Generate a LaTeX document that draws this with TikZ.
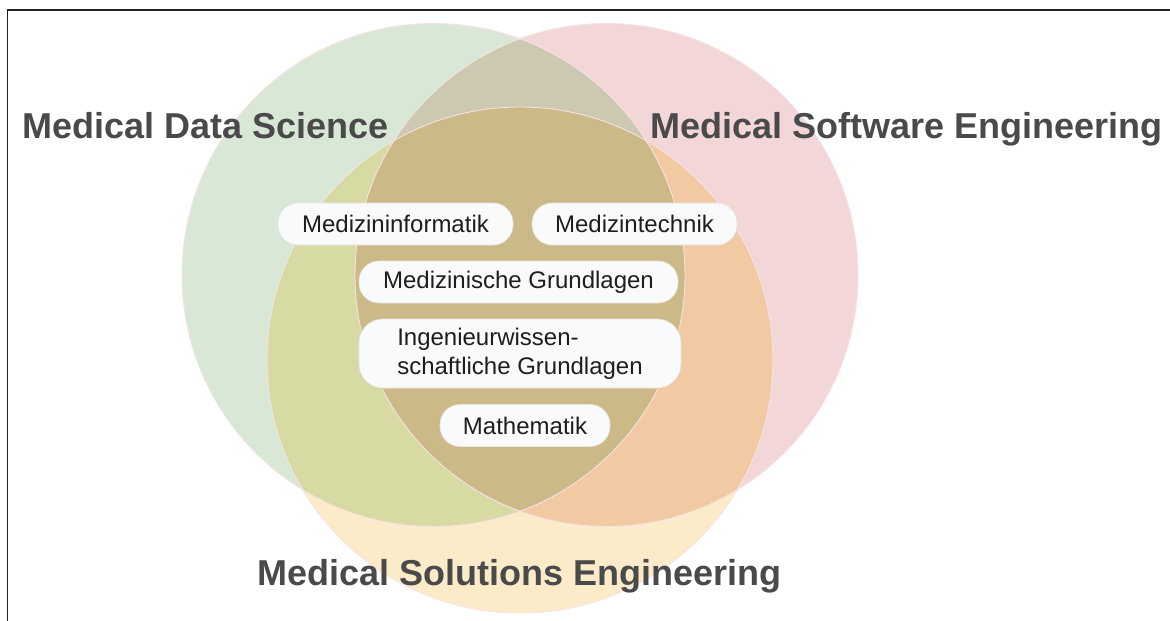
\documentclass[tikz,border=0pt]{standalone}
\usepackage{fontspec}
\setmainfont{Liberation Sans}
\definecolor{cgreen}{HTML}{D9E8D6}
\definecolor{cred}{HTML}{F3D6D7}
\definecolor{cyellow}{HTML}{FCEBC9}
\definecolor{cgr}{HTML}{CCC8B1}
\definecolor{cgy}{HTML}{D7DBA3}
\definecolor{cry}{HTML}{F1C9A2}
\definecolor{call}{HTML}{CBB987}
\definecolor{rimcol}{HTML}{F6E3E1}
\definecolor{labelgray}{HTML}{4A4A4A}
\definecolor{boxfill}{HTML}{F9FAFB}
\definecolor{boxedge}{HTML}{E6E4DE}
\definecolor{itemtext}{HTML}{1E1E1E}
\definecolor{framecol}{HTML}{222222}
\begin{document}
\begin{tikzpicture}[x=1pt,y=-1pt,
  big/.style={font=\fontsize{36}{40}\selectfont\bfseries, text=labelgray, inner sep=0pt},
  item/.style={fill=boxfill, draw=boxedge, line width=0.6pt, rounded corners=20pt,
    inner sep=0pt, font=\fontsize{24}{29}\selectfont, text=itemtext,
    minimum height=42pt, align=left},
  rim/.style={draw=rimcol, line width=0.9pt}]
\useasboundingbox (0,0) rectangle (1170,621);
\fill[white] (0,0) rectangle (1170,621);
% frame
\draw[framecol, line width=1.4pt] (7.5,621) -- (7.5,10) -- (1170,10);
% circle centres
\coordinate (G) at (433.5,275);
\coordinate (R) at (606.5,275);
\coordinate (Y) at (520,360);
% single fills
\fill[cgreen] (G) circle[radius=251.5pt];
\fill[cred] (R) circle[radius=251.5pt];
\fill[cyellow] (Y) circle[radius=253pt];
% pairwise overlaps
\begin{scope}
  \clip (G) circle[radius=251.5pt];
  \fill[cgr] (R) circle[radius=251.5pt];
  \fill[cgy] (Y) circle[radius=253pt];
\end{scope}
\begin{scope}
  \clip (R) circle[radius=251.5pt];
  \fill[cry] (Y) circle[radius=253pt];
\end{scope}
% triple overlap
\begin{scope}
  \clip (G) circle[radius=251.5pt];
  \clip (R) circle[radius=251.5pt];
  \fill[call] (Y) circle[radius=253pt];
\end{scope}
% rims
\draw[rim] (G) circle[radius=251.5pt];
\draw[rim] (R) circle[radius=251.5pt];
\draw[rim] (Y) circle[radius=253pt];
% labels
\node[big, anchor=base west] (lds) at (22,138) {Medical Data Science};
\node[big, anchor=base east] (lse) at (1163,138) {Medical Software Engineering};
\node[big, anchor=base west] (lsol) at (257,585) {Medical Solutions Engineering};
% items
\node[item, minimum width=235pt] (mi) at (395.5,224) {Medizininformatik};
\node[item, minimum width=205pt] (mt) at (634.5,224) {Medizintechnik};
\node[item, minimum width=319pt] (mg) at (518.5,282) {Medizinische Grundlagen};
\node[item, minimum width=322pt, minimum height=69pt, rounded corners=24pt] (ig) at (520,353.5) {Ingenieurwissen-\\schaftliche Grundlagen};
\node[item, minimum width=170pt] (ma) at (525,425.5) {Mathematik};
\end{tikzpicture}
\end{document}
